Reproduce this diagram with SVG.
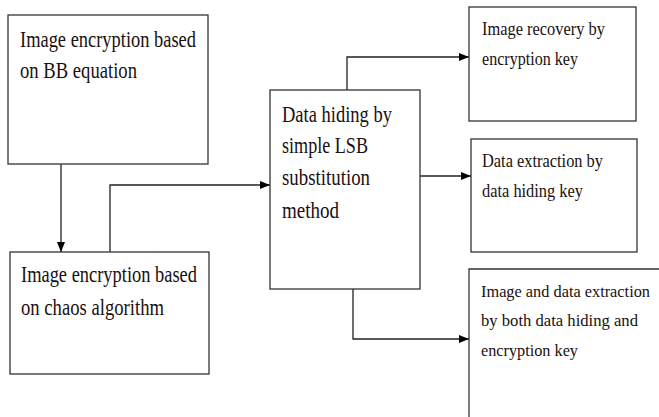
<svg xmlns="http://www.w3.org/2000/svg" width="659" height="417" viewBox="0 0 659 417">
<style>
.box{fill:#fff;stroke:#333;stroke-width:1.3}
.t{font-family:"Liberation Serif","Times New Roman",serif;fill:#1a1010}
.l{font-size:23px}
.s{font-size:18.5px}
.m{font-size:17px}
.c{fill:none;stroke:#222;stroke-width:1.3}
</style>
<defs>
<marker id="ah" viewBox="0 0 10 8" refX="10" refY="4" markerWidth="10" markerHeight="8" markerUnits="userSpaceOnUse" orient="auto">
<path d="M0,0 L10,4 L0,8 Z" fill="#000"/>
</marker>
</defs>
<rect width="659" height="417" fill="#fff"/>
<g id="connectors">
<path class="c" d="M61,164 V252" marker-end="url(#ah)"/>
<path class="c" d="M110,252 V185 H270" marker-end="url(#ah)"/>
<path class="c" d="M347,90 V57 H469" marker-end="url(#ah)"/>
<path class="c" d="M420,176 H471" marker-end="url(#ah)"/>
<path class="c" d="M353,289 V339 H469" marker-end="url(#ah)"/>
</g>
<g id="n1">
<rect class="box" x="8" y="15" width="200" height="149"/>
<text class="t l" x="20" y="47" textLength="176" lengthAdjust="spacingAndGlyphs">Image encryption based</text>
<text class="t l" x="20" y="78" textLength="117" lengthAdjust="spacingAndGlyphs">on BB equation</text>
</g>
<g id="n2">
<rect class="box" x="10" y="252" width="199" height="122"/>
<text class="t l" x="21" y="282" textLength="176" lengthAdjust="spacingAndGlyphs">Image encryption based</text>
<text class="t l" x="21" y="315" textLength="143" lengthAdjust="spacingAndGlyphs">on chaos algorithm</text>
</g>
<g id="n3">
<rect class="box" x="270" y="90" width="150" height="199"/>
<text class="t l" x="282" y="122" textLength="110" lengthAdjust="spacingAndGlyphs">Data hiding by</text>
<text class="t l" x="282" y="153" textLength="86" lengthAdjust="spacingAndGlyphs">simple LSB</text>
<text class="t l" x="282" y="185" textLength="88" lengthAdjust="spacingAndGlyphs">substitution</text>
<text class="t l" x="282" y="218" textLength="57" lengthAdjust="spacingAndGlyphs">method</text>
</g>
<g id="n4">
<rect class="box" x="469" y="7" width="167" height="114"/>
<text class="t s" x="482" y="35" textLength="123" lengthAdjust="spacingAndGlyphs">Image recovery by</text>
<text class="t s" x="482" y="65" textLength="96" lengthAdjust="spacingAndGlyphs">encryption key</text>
</g>
<g id="n5">
<rect class="box" x="471" y="139" width="166" height="113"/>
<text class="t s" x="482" y="167" textLength="121" lengthAdjust="spacingAndGlyphs">Data extraction by</text>
<text class="t s" x="482" y="197" textLength="101" lengthAdjust="spacingAndGlyphs">data hiding key</text>
</g>
<g id="n6">
<path class="box" d="M659,269 H469 V417"/>
<text class="t m" x="481" y="297" textLength="169" lengthAdjust="spacingAndGlyphs">Image and data extraction</text>
<text class="t m" x="481" y="326" textLength="157" lengthAdjust="spacingAndGlyphs">by both data hiding and</text>
<text class="t m" x="481" y="356" textLength="97" lengthAdjust="spacingAndGlyphs">encryption key</text>
</g>
</svg>
